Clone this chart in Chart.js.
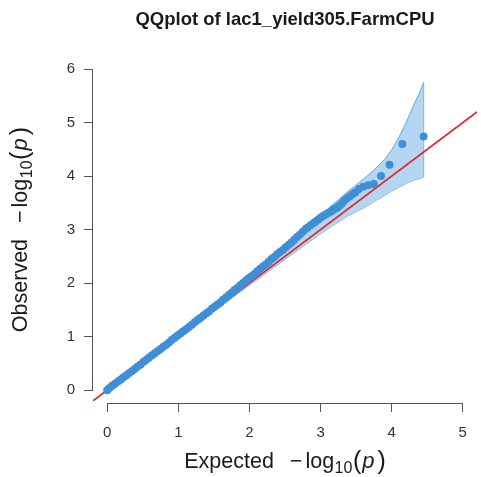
<!DOCTYPE html>
<html>
<head>
<meta charset="utf-8">
<script src="https://cdn.jsdelivr.net/npm/chart.js@4.4.0/dist/chart.umd.min.js"></script>
<style>
  html, body { margin: 0; padding: 0; background: #ffffff; }
  #wrap { width: 481px; height: 477px; }
</style>
</head>
<body>
<div id="wrap"><canvas id="qq" width="481" height="477"></canvas></div>
<script>
// QQ plot: expected vs observed -log10(p)
const chartTitle = "QQplot of lac1_yield305.FarmCPU";

const xTicks = [0, 1, 2, 3, 4, 5];
const yTicks = [0, 1, 2, 3, 4, 5, 6];

// observed points (expected, observed)
const expected = [
  0.00, 0.03, 0.07, 0.11, 0.15, 0.19, 0.23, 0.27, 0.31, 0.35, 0.39, 0.43, 0.47, 0.51, 0.55,
  0.59, 0.63, 0.67, 0.71, 0.75, 0.79, 0.83, 0.87, 0.91, 0.95, 0.99, 1.03, 1.07, 1.11, 1.15,
  1.19, 1.23, 1.27, 1.31, 1.35, 1.39, 1.43, 1.47, 1.51, 1.55, 1.59, 1.63, 1.67, 1.71, 1.75,
  1.79, 1.83, 1.87, 1.91, 1.95, 1.99, 2.03, 2.07, 2.11, 2.15, 2.19, 2.23, 2.27, 2.31, 2.35,
  2.39, 2.43, 2.47, 2.51, 2.55, 2.59, 2.63, 2.67, 2.71, 2.75, 2.79, 2.82, 2.86, 2.90, 2.93,
  2.97, 3.00, 3.03, 3.07, 3.11, 3.15, 3.17, 3.19, 3.22, 3.24, 3.27, 3.30, 3.33, 3.37, 3.41,
  3.45, 3.49, 3.54, 3.60, 3.67, 3.75, 3.85, 3.97, 4.15, 4.45
];
const observed = [
  0.00, 0.04, 0.08, 0.12, 0.16, 0.20, 0.24, 0.28, 0.32, 0.36, 0.40, 0.44, 0.48, 0.53, 0.57,
  0.61, 0.65, 0.69, 0.73, 0.77, 0.81, 0.85, 0.89, 0.94, 0.98, 1.02, 1.06, 1.10, 1.14, 1.18,
  1.22, 1.27, 1.31, 1.35, 1.39, 1.43, 1.47, 1.52, 1.56, 1.60, 1.64, 1.69, 1.73, 1.78, 1.82,
  1.87, 1.91, 1.96, 2.00, 2.05, 2.09, 2.13, 2.17, 2.22, 2.27, 2.31, 2.35, 2.40, 2.45, 2.49,
  2.54, 2.58, 2.62, 2.67, 2.71, 2.76, 2.81, 2.86, 2.91, 2.96, 3.01, 3.04, 3.08, 3.12, 3.15,
  3.19, 3.22, 3.25, 3.28, 3.31, 3.34, 3.36, 3.38, 3.40, 3.42, 3.45, 3.49, 3.54, 3.58, 3.62,
  3.66, 3.70, 3.76, 3.80, 3.83, 3.85, 4.00, 4.21, 4.60, 4.74
];

// confidence band
const bandExpected = [0.00, 0.50, 1.00, 1.50, 2.00, 2.30, 2.60, 2.80, 3.00, 3.20, 3.40, 3.60, 3.75, 3.90, 4.00, 4.10, 4.20, 4.30, 4.38, 4.45];
const bandLower    = [0.00, 0.49, 0.98, 1.47, 1.96, 2.25, 2.54, 2.73, 2.92, 3.10, 3.27, 3.40, 3.52, 3.64, 3.72, 3.79, 3.86, 3.92, 3.95, 3.98];
const bandUpper    = [0.00, 0.51, 1.02, 1.55, 2.08, 2.42, 2.80, 3.03, 3.27, 3.50, 3.73, 3.94, 4.11, 4.31, 4.49, 4.72, 4.99, 5.30, 5.52, 5.75];

// y = x reference line, spanning the plot region
const diagonal = [-0.2, 5.2];

const pts = (xs, ys) => xs.map((x, i) => ({ x: x, y: ys[i] }));
const lastIdx = bandExpected.length - 1;

const FONT = "'Liberation Sans', Arial, Helvetica, sans-serif";
const POINT_BLUE = "#3f8fd6";
const BAND_FILL = "rgba(172, 210, 241, 0.9)";
const BAND_EDGE = "#62a8e0";
const RED = "#e3262b";
const AXIS = "#555555";

// R-style axes: the axis line only spans the first to last tick
const axisLines = {
  id: "axisLines",
  afterDraw(chart) {
    const { ctx, chartArea, scales } = chart;
    const xs = scales.x, ys = scales.y;
    ctx.save();
    ctx.strokeStyle = AXIS;
    ctx.lineWidth = 1;
    ctx.beginPath();
    const yl = Math.round(chartArea.left) - 0.5;
    ctx.moveTo(yl, ys.getPixelForValue(yTicks[0]));
    ctx.lineTo(yl, ys.getPixelForValue(yTicks[yTicks.length - 1]));
    const xb = Math.round(chartArea.bottom) + 0.5;
    ctx.moveTo(xs.getPixelForValue(xTicks[0]), xb);
    ctx.lineTo(xs.getPixelForValue(xTicks[xTicks.length - 1]), xb);
    ctx.stroke();
    ctx.restore();
  }
};

// axis titles: "<label>  −log10(p)" with subscript 10 and italic p
function mathParts(label) {
  return [
    { t: label, font: "21.5px " + FONT, dy: 0, gap: 16 },
    { t: "\u2212", font: "21.5px " + FONT, dy: 0, gap: 3 },
    { t: "log", font: "21.5px " + FONT, dy: 0, gap: 0.5 },
    { t: "10", font: "16px " + FONT, dy: 5, gap: 0.5 },
    { t: "(", font: "25px " + FONT, dy: 1, gap: 1 },
    { t: "p", font: "italic 22px " + FONT, dy: 0, gap: 3 },
    { t: ")", font: "25px " + FONT, dy: 1, gap: 0 }
  ];
}
function drawParts(ctx, parts, cx, baseline) {
  let total = 0;
  parts.forEach(p => { ctx.font = p.font; p.w = ctx.measureText(p.t).width; total += p.w + p.gap; });
  let x = cx - total / 2;
  ctx.textAlign = "left";
  ctx.textBaseline = "alphabetic";
  parts.forEach(p => { ctx.font = p.font; ctx.fillText(p.t, x, baseline + p.dy); x += p.w + p.gap; });
}
const axisTitles = {
  id: "axisTitles",
  afterDraw(chart) {
    const { ctx, chartArea } = chart;
    ctx.save();
    ctx.fillStyle = "#1a1a1a";
    const cx = (chartArea.left + chartArea.right) / 2;
    drawParts(ctx, mathParts("Expected"), cx, 468);
    const cy = (chartArea.top + chartArea.bottom) / 2;
    ctx.translate(27, cy);
    ctx.rotate(-Math.PI / 2);
    drawParts(ctx, mathParts("Observed"), 0, 0);
    ctx.restore();
  }
};

const fixTicks = list => scale => { scale.ticks = list.map(v => ({ value: v })); };

new Chart(document.getElementById("qq"), {
  type: "scatter",
  data: {
    datasets: [
      {
        label: "upper",
        data: pts(bandExpected, bandUpper),
        showLine: true,
        borderColor: BAND_EDGE,
        borderWidth: 1,
        pointRadius: 0,
        backgroundColor: BAND_FILL,
        fill: "+1",
        order: 3
      },
      {
        label: "lower",
        data: pts(bandExpected, bandLower),
        showLine: true,
        borderColor: BAND_EDGE,
        borderWidth: 1,
        pointRadius: 0,
        fill: false,
        order: 3
      },
      {
        label: "band end",
        data: [
          { x: bandExpected[lastIdx], y: bandLower[lastIdx] },
          { x: bandExpected[lastIdx], y: bandUpper[lastIdx] }
        ],
        showLine: true,
        borderColor: BAND_EDGE,
        borderWidth: 1,
        pointRadius: 0,
        fill: false,
        order: 3
      },
      {
        label: "y = x",
        data: pts(diagonal, diagonal),
        showLine: true,
        borderColor: RED,
        borderWidth: 1.8,
        pointRadius: 0,
        fill: false,
        order: 2
      },
      {
        label: "observed",
        data: pts(expected, observed),
        pointRadius: 4,
        pointBorderWidth: 0,
        pointBackgroundColor: POINT_BLUE,
        borderColor: POINT_BLUE,
        order: 1
      }
    ]
  },
  options: {
    responsive: false,
    animation: false,
    events: [],
    layout: { padding: { left: 0, right: 4, top: 0, bottom: 0 } },
    plugins: {
      legend: { display: false },
      tooltip: { enabled: false },
      title: {
        display: true,
        text: chartTitle,
        fullSize: false,
        color: "#1a1a1a",
        font: { family: FONT, size: 18.5, weight: "bold", lineHeight: 1.2 },
        padding: { top: 9, bottom: 25 }
      }
    },
    scales: {
      x: {
        type: "linear",
        min: -0.2,
        max: 5.2,
        afterBuildTicks: fixTicks(xTicks),
        afterFit: s => { s.height = 74; },
        border: { display: false },
        grid: { drawOnChartArea: false, drawTicks: true, tickLength: 9, color: AXIS },
        ticks: { color: "#333333", padding: 12, maxRotation: 0, font: { family: FONT, size: 15 } }
      },
      y: {
        type: "linear",
        min: -0.24,
        max: 6.24,
        afterBuildTicks: fixTicks(yTicks),
        afterFit: s => { s.width = 93; },
        border: { display: false },
        grid: { drawOnChartArea: false, drawTicks: true, tickLength: 9, color: AXIS },
        ticks: { color: "#333333", padding: 9, font: { family: FONT, size: 15 } }
      }
    }
  },
  plugins: [axisLines, axisTitles]
});
</script>
</body>
</html>
